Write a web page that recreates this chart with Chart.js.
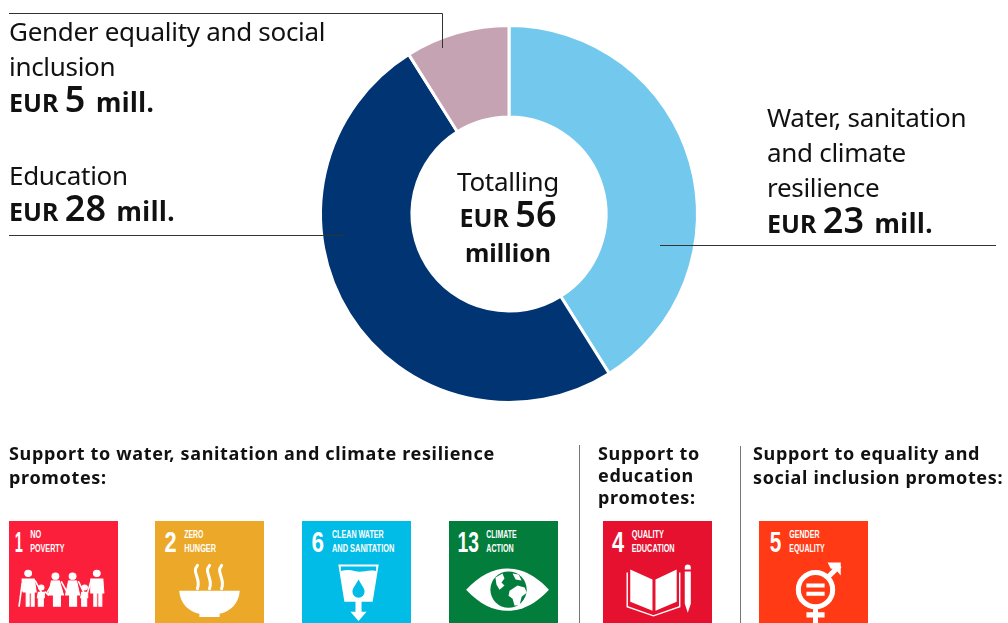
<!DOCTYPE html>
<html>
<head>
<meta charset="utf-8">
<title>Funding by theme</title>
<script src="https://cdn.jsdelivr.net/npm/chart.js@4"></script>
<style>
  html, body { margin: 0; padding: 0; background: #fff; }
  #page { position: relative; width: 1008px; height: 623px; overflow: hidden; font-family: "Noto Sans", sans-serif; color: #111; }
  #page canvas { position: absolute; left: 0; top: 0; }
  .txt { position: absolute; white-space: nowrap; font-size: 26px; line-height: 35px; letter-spacing: -0.3px; font-weight: 400; }
  .txt b { font-weight: 700; font-size: 25px; letter-spacing: 0; }
  .txt b big { font-size: 36px; font-weight: 600; line-height: 30px; }
  .txt b i { font-style: normal; font-size: 26px; letter-spacing: 0.5px; margin-left: 4px; }
  .head { position: absolute; white-space: nowrap; font-size: 18px; line-height: 23.5px; font-weight: 700; letter-spacing: 0.66px; color: #111; }
  .rule { position: absolute; width: 1px; background: #777; }
  .tile { position: absolute; top: 521px; width: 109px; height: 109px; }
  .tile text { font-family: "Liberation Sans", sans-serif; fill: #fff; }
  .tile .num { font-size: 30px; font-weight: 700; }
  .tile .lab { font-size: 11.5px; font-weight: 700; }
  #leaders { position: absolute; left: 0; top: 0; }
</style>
</head>
<body>
<div id="page">
  <canvas id="donut" width="1008" height="623"></canvas>

  <svg id="leaders" width="1008" height="623">
    <g fill="none" stroke="#333" stroke-width="1">
      <path d="M9 13.5H442.5V48"/>
      <path d="M9 235.5H345"/>
      <path d="M660 245.5H996"/>
    </g>
  </svg>

  <div class="txt" style="left:9px;top:14px">Gender equality and social<br>inclusion<br><b>EUR <big>5</big> <i>mill.</i></b></div>
  <div class="txt" style="left:9px;top:158px">Education<br><b>EUR <big>28</big> <i>mill.</i></b></div>
  <div class="txt" style="left:767px;top:100px">Water, sanitation<br>and climate<br>resilience<br><b>EUR <big>23</big> <i>mill.</i></b></div>
  <div class="txt" style="left:408px;width:200px;top:164px;text-align:center">Totalling<br><b>EUR <big>56</big></b><br><b>million</b></div>

  <div class="head" style="left:9px;top:442px">Support to water, sanitation and climate resilience<br>promotes:</div>
  <div class="head" style="left:598px;top:442px;line-height:22px">Support to<br>education<br>promotes:</div>
  <div class="head" style="left:753px;top:442px">Support to equality and<br>social inclusion promotes:</div>
  <div class="rule" style="left:579px;top:445px;height:178px"></div>
  <div class="rule" style="left:740px;top:446px;height:177px"></div>

  <!-- goal 1 -->
  <svg class="tile" style="left:9px" viewBox="0 0 108 108">
    <rect width="108" height="108" fill="#fb1f3b"/>
    <text class="num" x="5.6" y="31" textLength="8" lengthAdjust="spacingAndGlyphs">1</text>
    <text class="lab" x="21" y="17" textLength="11" lengthAdjust="spacingAndGlyphs">NO</text>
    <text class="lab" x="21" y="31" textLength="34" lengthAdjust="spacingAndGlyphs">POVERTY</text>
    <g fill="#fff" stroke="#fff" stroke-linecap="round" transform="translate(0,-3) scale(1,.93)">
      <circle cx="19" cy="59" r="3.4"/><circle cx="46" cy="62" r="3.4"/><circle cx="63" cy="62" r="3.4"/><circle cx="87" cy="59" r="3.4"/>
      <circle cx="32" cy="74" r="2.7"/><circle cx="75" cy="74" r="2.7"/>
      <path stroke-width="1" d="M13 65h12l2 14h-2v15h-3V80h-2v14h-3V79h-3l-1-3z"/>
      <path stroke-width="1.6" fill="none" d="M13 70 10 94M26 67l6 12M38 79l6-11"/>
      <path stroke-width="1" d="M42 67h8l4 15h-3v12h-3V82h-1v12h-3V82h-5z"/>
      <path stroke-width="1" d="M59 67h8l3 15h-3v12h-3V82h-1v12h-3V82h-4z"/>
      <path stroke-width="1" d="M81 65h12l1 15h-2v14h-3V80h-2v14h-3V80h-3z"/>
      <path stroke-width="1" d="M29 79h6v6h-1v9h-2v-7h-1v7h-2v-9h-1z"/>
      <path stroke-width="1" d="M72 79h6v6h-1v9h-2v-7h-1v7h-2v-9h-1z"/>
      <path stroke-width="1.6" fill="none" d="M52 68l5 10M69 68l5 11M81 68l-3 11M36 79l3 3"/>
    </g>
  </svg>

  <!-- goal 2 -->
  <svg class="tile" style="left:155px" viewBox="0 0 108 108">
    <rect width="108" height="108" fill="#eca828"/>
    <text class="num" x="9.4" y="31" textLength="12" lengthAdjust="spacingAndGlyphs">2</text>
    <text class="lab" x="29" y="17" textLength="19" lengthAdjust="spacingAndGlyphs">ZERO</text>
    <text class="lab" x="29" y="31" textLength="31.5" lengthAdjust="spacingAndGlyphs">HUNGER</text>
    <path fill="#fff" d="M24 69H84C83 82 75 89 64 92V95H44V92C33 89 25 82 24 69Z"/>
    <g fill="none" stroke="#fff" stroke-width="3" stroke-linecap="round">
      <path d="M42 44C36 51 46 57 42 67"/>
      <path d="M54 44C48 51 58 57 54 67"/>
      <path d="M66 44C60 51 70 57 66 67"/>
    </g>
  </svg>

  <!-- goal 6 -->
  <svg class="tile" style="left:302px" viewBox="0 0 108 108">
    <rect width="108" height="108" fill="#00bce6"/>
    <text class="num" x="9.3" y="31" textLength="12.4" lengthAdjust="spacingAndGlyphs">6</text>
    <text class="lab" x="29.7" y="17" textLength="51.3" lengthAdjust="spacingAndGlyphs">CLEAN WATER</text>
    <text class="lab" x="29.7" y="31" textLength="61.8" lengthAdjust="spacingAndGlyphs">AND SANITATION</text>
    <g transform="translate(0,-6)">
      <path fill="#fff" d="M36 49H76L70 86H59V96H64L56 105 48 96H53V86H42Z"/>
      <path fill="#00bce6" d="M38.5 51H73.5V55.5C64 53.5 60 58 52 55.5 47 54 43 54.5 38.5 55.5Z"/>
      <path fill="#00bce6" d="M56 64C60 71 62 73 62 76A6 6 0 0 1 50 76C50 73 52 71 56 64Z"/>
    </g>
  </svg>

  <!-- goal 13 -->
  <svg class="tile" style="left:449px" viewBox="0 0 108 108">
    <rect width="108" height="108" fill="#027d3b"/>
    <text class="num" x="8.4" y="31" textLength="21.2" lengthAdjust="spacingAndGlyphs">13</text>
    <text class="lab" x="37" y="17" textLength="30" lengthAdjust="spacingAndGlyphs">CLIMATE</text>
    <text class="lab" x="37" y="31" textLength="27" lengthAdjust="spacingAndGlyphs">ACTION</text>
    <path fill="#fff" d="M17 68C30 54 44 47 58 47S86 54 99 68C86 82 72 89 58 89S30 82 17 68Z"/>
    <circle cx="59" cy="68" r="18" fill="#027d3b"/>
    <path fill="#fff" d="M46 56l7-4 2 5-3 4 3 3-5 4-3-5zM60 69l8-5 7 2 2 5-5 4-2 8-5 1-2-7-4-3zM63 52l6 1 3 6-6-1z"/>
  </svg>

  <!-- goal 4 -->
  <svg class="tile" style="left:603px" viewBox="0 0 108 108">
    <rect width="108" height="108" fill="#e5112f"/>
    <text class="num" x="9" y="31" textLength="12" lengthAdjust="spacingAndGlyphs">4</text>
    <text class="lab" x="28.4" y="17" textLength="32" lengthAdjust="spacingAndGlyphs">QUALITY</text>
    <text class="lab" x="28.4" y="31" textLength="42.6" lengthAdjust="spacingAndGlyphs">EDUCATION</text>
    <path fill="#fff" d="M27 48 49 58V89L27 80ZM73 48 52 58V89L73 80Z"/>
    <path fill="none" stroke="#fff" stroke-width="1.4" d="M24 51V85L50 94 76 85V51"/>
    <path fill="#fff" d="M81 46A3 3 0 0 1 87 46V48H81ZM81 50H87V82L84 91 81 82Z"/>
  </svg>

  <!-- goal 5 -->
  <svg class="tile" style="left:759px" viewBox="0 0 108 108">
    <rect width="108" height="108" fill="#ff3a15"/>
    <text class="num" x="10.7" y="31" textLength="11.5" lengthAdjust="spacingAndGlyphs">5</text>
    <text class="lab" x="30" y="17" textLength="30" lengthAdjust="spacingAndGlyphs">GENDER</text>
    <text class="lab" x="30" y="31" textLength="35" lengthAdjust="spacingAndGlyphs">EQUALITY</text>
    <g fill="none" stroke="#fff">
      <circle cx="56" cy="68" r="17" stroke-width="5"/>
      <path stroke-width="5" d="M68 56 80 44M56 85V102M47 93H65"/>
      <path stroke-width="4" d="M47 64H65M47 72H65"/>
    </g>
    <path fill="#fff" d="M68 41H81V54L76 48 71 47Z"/>
  </svg>
</div>

<script>
const categories = ['Water, sanitation and climate resilience', 'Education', 'Gender equality and social inclusion'];
const amounts = [23, 28, 5];
const colours = ['#73c8ee', '#003473', '#c5a3b2'];

new Chart(document.getElementById('donut'), {
  type: 'doughnut',
  data: {
    labels: categories,
    datasets: [{
      data: amounts,
      backgroundColor: colours,
      borderColor: '#fff',
      borderWidth: 3
    }]
  },
  options: {
    responsive: false,
    animation: false,
    cutout: '51.5%',
    layout: { padding: { left: 319, right: 309, top: 24, bottom: 219 } },
    plugins: {
      legend: { display: false },
      tooltip: { enabled: false }
    }
  }
});
</script>
</body>
</html>
